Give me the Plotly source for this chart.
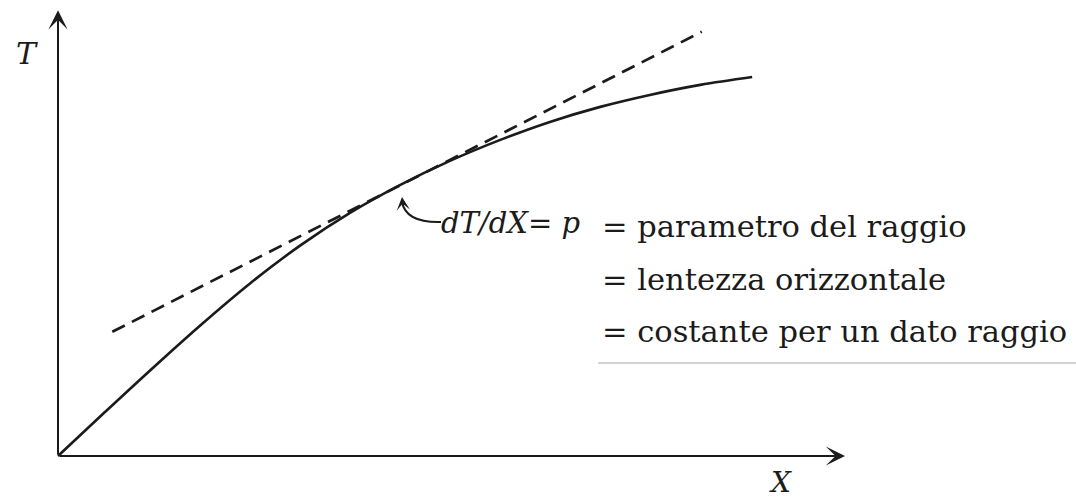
import plotly.graph_objects as go

# Travel-time curve T(X) and its tangent line (schematic units)
curve_x = [0.0, 0.60, 1.17, 1.80, 2.44, 3.08, 3.71, 4.35, 4.98, 5.62, 6.25, 6.89, 7.52, 8.16, 8.82]
curve_t = [0.0, 0.555, 1.075, 1.634, 2.168, 2.646, 3.054, 3.406, 3.707, 3.971, 4.197, 4.386, 4.536, 4.662, 4.761]

tangent_x = [0.69, 8.18]
tangent_t = [1.56, 5.33]

axis_x_len = 10.0
axis_t_len = 5.6

label_t = "T"
label_x = "X"
slope_label = "dT/dX= p"
definitions = [
    "= parametro del raggio",
    "= lentezza orizzontale",
    "= costante per un dato raggio",
]

W, H = 1076, 500
# data range chosen so that the whole canvas is the plotting area
X_RANGE = [-0.737, 12.935]
Y_RANGE = [-0.5528, 5.7286]


def px(x):
    return x / W


def py(y):
    return 1 - y / H


SERIF = "DejaVu Serif"
INK = "#1b1b1b"

fig = go.Figure()

fig.add_trace(go.Scatter(
    x=tangent_x, y=tangent_t, mode="lines",
    line=dict(color=INK, width=2.7, dash="14px,8px"),
    hoverinfo="skip",
))
fig.add_trace(go.Scatter(
    x=curve_x, y=curve_t, mode="lines",
    line=dict(color=INK, width=2.6, shape="spline", smoothing=1.0),
    hoverinfo="skip",
))

annotations = [
    # axes with arrowheads
    dict(x=0, y=axis_t_len, ax=0, ay=0, xref="x", yref="y", axref="x", ayref="y",
         showarrow=True, arrowhead=3, arrowsize=1.6, arrowwidth=2, arrowcolor=INK, text=""),
    dict(x=axis_x_len, y=0, ax=0, ay=0, xref="x", yref="y", axref="x", ayref="y",
         showarrow=True, arrowhead=3, arrowsize=1.6, arrowwidth=2, arrowcolor=INK, text=""),
    # axis labels
    dict(x=px(27), y=py(54), xref="paper", yref="paper", text=f"<i>{label_t}</i>",
         xanchor="center", yanchor="middle",
         showarrow=False, font=dict(family=SERIF, size=30, color=INK)),
    dict(x=px(780), y=py(482), xref="paper", yref="paper", text=f"<i>{label_x}</i>",
         xanchor="center", yanchor="middle",
         showarrow=False, font=dict(family=SERIF, size=28, color=INK)),
    # slope label
    dict(x=px(439), y=py(223), xref="paper", yref="paper", text=f"<i>{slope_label}</i>",
         showarrow=False, xanchor="left", yanchor="middle",
         font=dict(family=SERIF, size=29, color=INK)),
    # arrowhead at the end of the curved pointer
    dict(x=px(402), y=py(197), ax=1, ay=10, xref="paper", yref="paper",
         showarrow=True, arrowhead=3, arrowsize=1.1, arrowwidth=2, arrowcolor=INK, text=""),
]

row_y = [227, 279, 331]
for txt, yy in zip(definitions, row_y):
    annotations.append(dict(
        x=px(600), y=py(yy), xref="paper", yref="paper", text=txt,
        showarrow=False, xanchor="left", yanchor="middle",
        font=dict(family=SERIF, size=30.5, color=INK),
    ))

shapes = [
    # curved pointer from the label to the curve
    dict(type="path", xref="paper", yref="paper",
         path=f"M {px(441)},{py(222)} Q {px(406)},{py(223)} {px(402)},{py(202)}",
         line=dict(color=INK, width=2)),
    # faint rule beneath the definitions
    dict(type="line", xref="paper", yref="paper",
         x0=px(598), y0=py(363), x1=px(1076), y1=py(363),
         line=dict(color="#c4c4c4", width=1.5)),
]

fig.update_layout(
    width=W, height=H,
    margin=dict(l=0, r=0, t=0, b=0),
    paper_bgcolor="white", plot_bgcolor="white",
    showlegend=False,
    xaxis=dict(range=X_RANGE, visible=False, fixedrange=True),
    yaxis=dict(range=Y_RANGE, visible=False, fixedrange=True),
    annotations=annotations,
    shapes=shapes,
)

fig.write_html("out.html")
